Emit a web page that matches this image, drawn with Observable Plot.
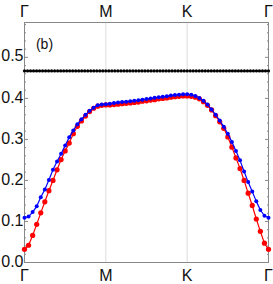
<!DOCTYPE html>
<html>
<head>
<meta charset="utf-8">
<script src="https://cdn.jsdelivr.net/npm/d3@7"></script>
<script src="https://cdn.jsdelivr.net/npm/@observablehq/plot@0.6"></script>
<style>
  html, body { margin: 0; padding: 0; background: #fff; }
  svg { font-family: "Liberation Sans", Arial, sans-serif; }
</style>
</head>
<body>
<div id="chart"></div>
<script>
const kLabels = ["Γ", "M", "K", "Γ"];
const kTicks = [0, 1, 2, 3];
const yTicks = [0, 0.1, 0.2, 0.3, 0.4, 0.5];
const yMinorTicks = [0.02,0.04,0.06,0.08,0.12,0.14,0.16,0.18,0.22,0.24,0.26,0.28,0.32,0.34,0.36,0.38,0.42,0.44,0.46,0.48,0.52,0.54,0.56,0.58];
const pointsPerSegment = 20;
const flatPointsPerSegment = 27;

const red = [
  0.032, 0.042, 0.066, 0.093, 0.121, 0.148, 0.175, 0.200, 0.226, 0.251, 0.272, 0.291, 0.314, 0.332, 0.345, 0.357, 0.368, 0.376, 0.381, 0.383, 0.384,
  0.384, 0.385, 0.386, 0.387, 0.388, 0.389, 0.390, 0.391, 0.393, 0.394, 0.396, 0.397, 0.399, 0.400, 0.401, 0.403, 0.404, 0.405, 0.406, 0.406,
  0.405, 0.403, 0.399, 0.392, 0.383, 0.372, 0.358, 0.343, 0.327, 0.306, 0.281, 0.255, 0.229, 0.200, 0.169, 0.139, 0.106, 0.076, 0.047, 0.032
];
const blue = [
  0.109, 0.112, 0.123, 0.137, 0.159, 0.178, 0.201, 0.226, 0.246, 0.265, 0.285, 0.305, 0.322, 0.337, 0.349, 0.360, 0.370, 0.377, 0.383, 0.385, 0.386,
  0.387, 0.389, 0.390, 0.391, 0.392, 0.393, 0.394, 0.3955, 0.397, 0.3985, 0.400, 0.4015, 0.403, 0.404, 0.4055, 0.407, 0.408, 0.409, 0.410, 0.410,
  0.409, 0.406, 0.401, 0.394, 0.385, 0.373, 0.360, 0.346, 0.331, 0.314, 0.294, 0.272, 0.249, 0.222, 0.196, 0.173, 0.149, 0.128, 0.114, 0.109
];
const black = [
  0.467, 0.467, 0.467, 0.467, 0.467, 0.467, 0.467, 0.467, 0.467, 0.467, 0.467, 0.467, 0.467, 0.467, 0.467, 0.467, 0.467, 0.467, 0.467, 0.467, 0.467, 0.467, 0.467, 0.467, 0.467, 0.467, 0.467,
  0.467, 0.467, 0.467, 0.467, 0.467, 0.467, 0.467, 0.467, 0.467, 0.467, 0.467, 0.467, 0.467, 0.467, 0.467, 0.467, 0.467, 0.467, 0.467, 0.467, 0.467, 0.467, 0.467, 0.467, 0.467, 0.467, 0.467,
  0.467, 0.467, 0.467, 0.467, 0.467, 0.467, 0.467, 0.467, 0.467, 0.467, 0.467, 0.467, 0.467, 0.467, 0.467, 0.467, 0.467, 0.467, 0.467, 0.467, 0.467, 0.467, 0.467, 0.467, 0.467, 0.467, 0.467,
  0.467
];
const panelLabel = "(b)";

const redData = red.map((v, i) => ({k: i / pointsPerSegment, e: v}));
const blueData = blue.map((v, i) => ({k: i / pointsPerSegment, e: v}));
const blackData = black.map((v, i) => ({k: i / flatPointsPerSegment, e: v}));

const fontSize = 16;
const chart = Plot.plot({
  width: 273,
  height: 284,
  marginLeft: 24,
  marginRight: 5,
  marginTop: 22,
  marginBottom: 22,
  style: {fontSize: fontSize + "px", fontFamily: "Liberation Sans, Arial, sans-serif", color: "#000", background: "#fff"},
  x: {domain: [0, 3]},
  y: {domain: [0, 0.585]},
  marks: [
    Plot.ruleX([1, 2], {stroke: "#dcdcdc", strokeWidth: 1}),
    Plot.axisY(yTicks, {anchor: "left", tickSize: -4, tickFormat: () => "", stroke: "#888", label: null}),
    Plot.axisY(yMinorTicks, {anchor: "left", tickSize: -2, tickFormat: () => "", stroke: "#888", label: null}),
    Plot.axisY(yTicks, {anchor: "right", tickSize: -4, tickFormat: () => "", stroke: "#888", label: null}),
    Plot.axisY(yMinorTicks, {anchor: "right", tickSize: -2, tickFormat: () => "", stroke: "#888", label: null}),
    Plot.axisY(yTicks, {anchor: "left", tickSize: 0, tickPadding: 1, dy: -1, tickFormat: d3.format(".1f"), fontSize: fontSize, fill: "#111", label: null}),
    Plot.axisX(kTicks, {anchor: "bottom", tickSize: 0, tickPadding: 7, tickFormat: (d, i) => kLabels[i], fontSize: fontSize, fill: "#111", label: null}),
    Plot.axisX(kTicks, {anchor: "top", tickSize: 0, tickPadding: 6, tickFormat: (d, i) => kLabels[i], fontSize: fontSize, fill: "#111", label: null}),
    Plot.frame({stroke: "#888", strokeWidth: 1}),
    Plot.line(blackData, {x: "k", y: "e", stroke: "#000", strokeWidth: 1}),
    Plot.dot(blackData, {x: "k", y: "e", fill: "#000", r: 1.6, stroke: "none"}),
    Plot.line(redData, {x: "k", y: "e", stroke: "#ff0000", strokeWidth: 1.2}),
    Plot.dot(redData, {x: "k", y: "e", fill: "#ff0000", r: 2.6, stroke: "none"}),
    Plot.line(blueData, {x: "k", y: "e", stroke: "#0000ff", strokeWidth: 1.2}),
    Plot.dot(blueData, {x: "k", y: "e", fill: "#0000ff", r: 2, stroke: "none"}),
    Plot.text([panelLabel], {frameAnchor: "top-left", textAnchor: "middle", lineAnchor: "middle", dx: 20, dy: 22, text: d => d, fontSize: 14, fill: "#111"})
  ]
});
document.getElementById("chart").appendChild(chart);
</script>
</body>
</html>
